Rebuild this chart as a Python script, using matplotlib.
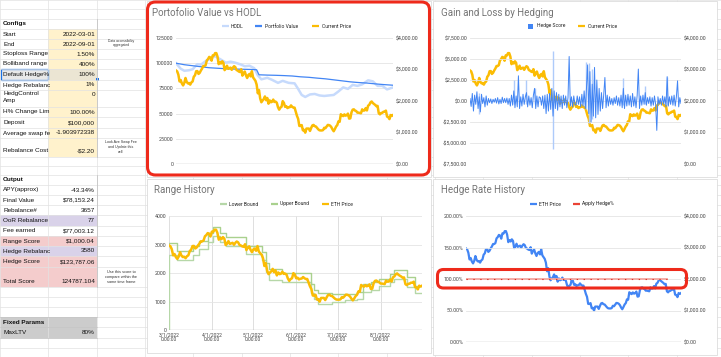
import matplotlib
matplotlib.use('Agg')
import matplotlib.pyplot as plt
from matplotlib.patches import Rectangle, FancyBboxPatch
from matplotlib.ticker import FuncFormatter
import pandas as pd

W, H = 721, 357
SHEET_FONT = 'Liberation Sans'

# ETH price, one value per day, 2022-03-01 .. 2022-08-31
eth_mar = [2970, 2940, 2835, 2620, 2665, 2555, 2495, 2575, 2730, 2610,
           2560, 2570, 2520, 2590, 2620, 2770, 2815, 2945, 2950, 2860,
           2895, 2970, 3030, 3110, 3110, 3140, 3290, 3330, 3400, 3380, 3280]
eth_apr = [3450, 3445, 3520, 3520, 3410, 3170, 3235, 3190, 3260, 3210,
           2980, 3030, 3120, 3020, 3040, 3060, 2990, 3060, 3105, 3075,
           2985, 2965, 2935, 2920, 3010, 2805, 2890, 2935, 2815, 2730]
eth_may = [2825, 2860, 2780, 2945, 2750, 2695, 2640, 2520, 2245, 2345,
           2080, 1960, 2015, 2060, 2145, 2025, 2095, 1915, 2020, 1960,
           1975, 2045, 1970, 1980, 1945, 1805, 1725, 1790, 1815, 1995, 1940]
eth_jun = [1815, 1835, 1775, 1800, 1805, 1860, 1815, 1790, 1790, 1665,
           1530, 1435, 1210, 1205, 1235, 1070, 1085, 995, 1125, 1125,
           1125, 1050, 1145, 1225, 1240, 1200, 1190, 1145, 1100, 1070]
eth_jul = [1065, 1065, 1075, 1150, 1135, 1185, 1240, 1235, 1215, 1170,
           1095, 1040, 1110, 1190, 1235, 1355, 1340, 1580, 1545, 1520,
           1575, 1535, 1550, 1600, 1440, 1450, 1640, 1725, 1735, 1695, 1680]
eth_aug = [1630, 1630, 1620, 1610, 1735, 1695, 1700, 1775, 1700, 1850,
           1880, 1955, 1985, 1935, 1905, 1875, 1835, 1845, 1610, 1575,
           1620, 1625, 1660, 1660, 1695, 1505, 1490, 1425, 1555, 1525, 1555]
eth_price = eth_mar + eth_apr + eth_may + eth_jun + eth_jul + eth_aug
days = list(range(len(eth_price)))
dates = pd.date_range('2022-03-01', periods=len(eth_price), freq='D')

# HODL and portfolio value (day index)
hodl_days = [0, 4, 7, 11, 14, 18, 21, 25, 29, 33, 35, 38, 42, 46, 50, 54, 58, 62,
             66, 69, 72, 77, 81, 86, 90, 95, 100, 103, 106, 109, 113, 117, 121,
             125, 129, 133, 137, 141, 145, 149, 153, 157, 162, 166, 170, 174, 178, 183]
hodl_value = [100000, 94500, 92500, 93000, 94000, 99000, 98500, 102000, 104500,
              107000, 105500, 103500, 100500, 101500, 100500, 99000, 97000, 97500,
              95000, 88000, 84000, 85500, 83500, 80500, 82500, 80500, 80000, 74500,
              68500, 66500, 69000, 69500, 68000, 67500, 68000, 68500, 72000, 76000,
              74500, 78500, 77500, 79000, 83000, 82000, 77500, 77500, 74000, 76000]
port_days = [0, 7, 14, 21, 28, 35, 42, 49, 56, 63, 68, 70, 77, 84, 91, 98, 105,
             112, 119, 126, 133, 140, 147, 154, 161, 168, 175, 183]
port_value = [100000, 98500, 97500, 96500, 95500, 95000, 94500, 94200, 94000,
              93800, 93500, 88500, 88200, 88000, 87700, 87300, 86500, 86000,
              85200, 84500, 83500, 82500, 81500, 80800, 80300, 79500, 78800, 78153]

# Hedge score per day
hedge_mar = [300, -650, 900, -1200, 700, -400, 1100, -900, 500, -1300, 800, -300,
             400, -700, 600, -500, 300, -200, 250, -300, 200, -150, 300, -250,
             400, -350, 200, -300, 450, -200, 300]
hedge_apr = [-200, 350, -400, 300, -600, 700, -500, 1200, -800, 600, -700, 3000,
             -900, 500, -600, 800, -400, 500, 1000, -700, 600, -500, 400, -800,
             700, 1500, -900, 600, -700, 500]
hedge_may = [400, -500, 600, -900, 700, -1500, 800, -1200, 900, -1000, 1500, -1800,
             1200, -900, 1000, -1100, 800, -700, 600, -900, 700, -500, 600, -800,
             400, 5300, -600, 500, -700, 600, -400]
hedge_jun = [-500, 600, -400, 500, -700, 800, -600, 1200, -900, 1500, 4300, -1500,
             3500, -2500, 2000, -1800, 4000, -2000, 2500, -1600, 1500, -1200, 1000,
             -900, 800, 2800, -800, 700, -600, 500]
hedge_jul = [-400, 300, -500, 400, -300, 600, -500, 400, -600, 700, -800, 1500,
             -900, 700, -600, 800, -500, 600, -700, 900, -600, 500, -800, 700,
             3800, -900, 600, -500, 700, -400, 1000]
hedge_aug = [-500, 400, -300, 500, -600, 400, -500, 600, -400, -3500, 500, -400,
             300, -500, 600, -400, 500, -700, 2900, -600, 500, -400, 600, -500,
             700, -600, 500, 2400, -700, 400, -300]
hedge_score = hedge_mar + hedge_apr + hedge_may + hedge_jun + hedge_jul + hedge_aug
light_days = [8, 38, 49, 56, 72, 101, 103, 106, 133, 152, 171]
light_low = [-1500, -300, -300, -300, -5700, -1000, -2600, -2200, -500, -300, -500]
light_high = [1000, 2500, 2500, 1500, 6000, 4700, 4500, 3800, 2700, 1800, 2900]

# Range history steps
bound_days = [0, 0, 6, 17, 22, 28, 32, 37, 41, 56, 67, 70, 72, 82, 103, 105, 108,
              118, 127, 136, 140, 146, 152, 160, 163, 172, 178, 183]
lower_bound = [0, 2620, 2450, 2620, 2850, 3100, 3300, 3100, 2950, 2650, 2450, 2050,
               1750, 1700, 1300, 1100, 900, 1000, 1050, 1100, 1350, 1400, 1550,
               1700, 1800, 1500, 1300, 1300]
upper_bound = [3070, 3070, 2760, 2950, 3120, 3400, 3600, 3400, 3250, 2950, 2750,
               2350, 2150, 1990, 1600, 1400, 1290, 1280, 1250, 1350, 1600, 1700,
               1800, 1950, 2100, 1850, 1550, 1550]

# Applied hedge rate
hedge_days = [0, 171]
apply_hedge = [1.0, 1.0]

# Spreadsheet text
config_labels = ['Start', 'End', 'Stoploss Range', 'Bolliband range', 'Default Hedge%',
                 'Hedge Rebalanc', 'HedgControl\nAmp', 'H% Change Lim', 'Deposit',
                 'Average swap fe', 'Rebalance Cost']
config_values = ['2022-03-01', '2022-09-01', '1.50%', '400%', '100%', '1%', '0',
                 '100.00%', '$100,000', '-1.903972338', '-$2.20']
output_labels = ['APY(approx)', 'Final Value', 'Rebalance#', 'OoR Rebalance',
                 'Fee earned', 'Range Score', 'Hedge Rebalanc', 'Hedge Score', 'Total Score']
output_values = ['-43.34%', '$78,153.24', '3657', '77', '$77,003.12', '$1,000.04',
                 '3580', '$123,787.06', '124787.104']

COL_EDGES = [0, 48, 97, 145, 193, 242, 290, 338, 387, 435, 483, 532, 580, 628, 677, 725]
ROW_EDGES = [0, 9, 19, 29, 39, 49, 59, 69, 80, 90, 107, 117, 128, 138, 157, 166, 175,
             185, 195, 205, 215, 226, 236, 246, 256, 267, 287, 297, 307, 317, 327,
             338, 348, 357]

YELLOW = '#fbbc04'
BLUE = '#4285f4'
GREY_TXT = '#444444'
TICK_SIZE = 3.8
PRICE_LW = 1.8


def box(x0, y0, x1, y1):
    return [x0 / W, 1 - y1 / H, (x1 - x0) / W, (y1 - y0) / H]


def money(v, pos=None):
    if v < 0:
        return f"-${-v:,.2f}"
    return f"${v:,.2f}"


def cell_text(ax, x, y, s, ha='left', va='center', bold=False, size=4.6):
    ax.text(x, y, s, ha=ha, va=va, fontsize=size, family=SHEET_FONT,
            fontweight='bold' if bold else 'normal', color='#111111', linespacing=1.3)


def draw_sheet(bg):
    for x in COL_EDGES:
        bg.plot([x, x], [0, H], color='#e2e2e2', lw=0.5)
    for y in ROW_EDGES:
        bg.plot([0, W], [y, y], color='#e2e2e2', lw=0.5)

    # config block
    cell_text(bg, 3, 24, 'Configs', bold=True)
    for i, (lab, val) in enumerate(zip(config_labels, config_values)):
        y0, y1 = ROW_EDGES[3 + i], ROW_EDGES[4 + i]
        fa, fb = None, '#fff2cc'
        if lab == 'Default Hedge%':
            fa, fb = '#e8e8e8', '#ebe5d3'
        if fa:
            bg.add_patch(Rectangle((0, y0), 48, y1 - y0, color=fa, lw=0))
        bg.add_patch(Rectangle((48, y0), 49, y1 - y0, color=fb, lw=0))
        if lab.startswith('HedgControl'):
            cell_text(bg, 3, y0 + 1.5, lab, va='top')
            cell_text(bg, 95, y0 + 1.5, val, ha='right', va='top')
        elif y1 - y0 > 14:
            cell_text(bg, 3, y1 - 6, lab)
            cell_text(bg, 95, y1 - 6, val, ha='right')
        else:
            cell_text(bg, 3, (y0 + y1) / 2, lab)
            cell_text(bg, 95, (y0 + y1) / 2, val, ha='right')
    bg.add_patch(Rectangle((0.5, 69), 47.5, 11, fill=False, ec='#1a73e8', lw=0.9))
    bg.add_patch(Rectangle((95.5, 78), 3, 3, color='#1a73e8', lw=0))
    bg.plot([97, 97], [19, 157], color='#bdbdbd', lw=0.5)

    # output block
    cell_text(bg, 3, 180, 'Output', bold=True)
    lav, pink = '#d9d2e9', '#f4cccc'
    fills = [None, None, None, lav, None, pink, lav, pink, pink]
    for i, (lab, val) in enumerate(zip(output_labels, output_values)):
        y0, y1 = ROW_EDGES[17 + i], ROW_EDGES[18 + i]
        if fills[i]:
            bg.add_patch(Rectangle((0, y0), 97, y1 - y0, color=fills[i], lw=0))
        yt = y1 - 5.5 if y1 - y0 > 14 else (y0 + y1) / 2
        cell_text(bg, 3, yt, lab)
        cell_text(bg, 95, yt, val, ha='right')
    bg.plot([97, 97], [175, 287], color='#bdbdbd', lw=0.5)

    # fixed params
    bg.add_patch(Rectangle((0, 317), 97, 21, color='#cccccc', lw=0))
    cell_text(bg, 3, 322, 'Fixed Params', bold=True)
    cell_text(bg, 3, 332.5, 'MaxLTV')
    cell_text(bg, 95, 332.5, '80%', ha='right')
    for y in [317, 327, 338]:
        bg.plot([0, 97], [y, y], color='#b8b8b8', lw=0.4)

    # notes in column C
    bg.text(121, 43, 'Data accessibility\naggregated', ha='center', va='center',
            fontsize=2.4, family=SHEET_FONT, color='#333333', linespacing=1.2)
    bg.text(121, 147, 'Look Ave Swap Fee\nand Update this\ncell', ha='center', va='center',
            fontsize=2.6, family=SHEET_FONT, color='#333333', linespacing=1.2)
    bg.text(121, 277, 'Use this score to\ncompare within the\nsame time frame', ha='center',
            va='center', fontsize=2.8, family=SHEET_FONT, color='#333333', linespacing=1.2)

    # chart panels
    for (x0, y0, x1, y1) in [(147, 1, 431, 177), (433, 1, 717, 177),
                             (147, 179, 431, 353), (433, 179, 717, 355)]:
        bg.add_patch(Rectangle((x0, y0), x1 - x0, y1 - y0, facecolor='white',
                               edgecolor='#d6d6d6', lw=0.5, zorder=3))


def style_axis(ax, grid_x=False):
    ax.set_facecolor('none')
    for s in ax.spines.values():
        s.set_visible(False)
    ax.tick_params(axis='both', length=0, labelsize=TICK_SIZE, colors=GREY_TXT, pad=2)
    ax.grid(axis='y', color='#e4e4e4', lw=0.6)
    if grid_x:
        ax.grid(axis='x', color='#d9d9d9', lw=0.6)
    ax.set_axisbelow(True)


def legend(ov, y, items):
    for kind, color, sx, tx, label in items:
        if kind == 'square':
            ov.add_patch(Rectangle((sx, y - 2.5), 5, 5, color=color, lw=0))
        else:
            ov.plot([sx, sx + 6.5], [y, y], color=color, lw=1.6, solid_capstyle='butt')
        ov.text(tx, y, label, ha='left', va='center', fontsize=3.6, color='#222222')


def chart_portfolio(fig):
    ax = fig.add_axes(box(176, 38, 393, 164))
    style_axis(ax)
    ax.plot(hodl_days, hodl_value, color='#c6dafc', lw=1.8)
    ax.plot(port_days, port_value, color=BLUE, lw=0.9)
    ax.axhline(0, color='#9e9e9e', lw=0.9)
    ax.set_ylim(0, 125000)
    ax.set_yticks(range(0, 125001, 25000))
    ax.set_xlim(0, days[-1])
    ax.set_xticks([])
    ax2 = ax.twinx()
    style_axis(ax2)
    ax2.grid(False)
    ax2.plot(days, eth_price, color=YELLOW, lw=PRICE_LW)
    ax2.set_ylim(0, 4000)
    ax2.set_yticks(range(0, 4001, 1000))
    ax2.yaxis.set_major_formatter(FuncFormatter(money))
    ax.set_zorder(2)
    ax2.set_zorder(3)


def chart_hedging(fig):
    ax = fig.add_axes(box(470, 38, 681, 164))
    style_axis(ax)
    ax.set_ylim(-7500, 7500)
    ax.set_yticks(range(-7500, 7501, 2500))
    ax.yaxis.set_major_formatter(FuncFormatter(money))
    ax.set_xlim(0, days[-1])
    ax.set_xticks([])
    ax2 = ax.twinx()
    style_axis(ax2)
    ax2.grid(False)
    ax2.plot(days, eth_price, color=YELLOW, lw=PRICE_LW)
    ax2.set_ylim(0, 4000)
    ax2.set_yticks(range(0, 4001, 1000))
    ax2.yaxis.set_major_formatter(FuncFormatter(money))
    ax.vlines(light_days, light_low, light_high, color='#aecbfa', lw=1.0)
    ax.plot(days, hedge_score, color=BLUE, lw=0.7)
    ax.set_zorder(3)
    ax2.set_zorder(2)


def chart_range(fig):
    ax = fig.add_axes(box(169, 216, 422, 330))
    style_axis(ax, grid_x=True)
    bdates = dates[bound_days]
    ax.step(bdates, lower_bound, where='post', color='#b6d7a8', lw=1.0)
    ax.step(bdates, upper_bound, where='post', color='#a9d18e', lw=1.0)
    ax.plot(dates, eth_price, color=YELLOW, lw=PRICE_LW)
    ax.axhline(0, color='#9e9e9e', lw=0.9)
    ax.set_ylim(0, 4000)
    ax.set_yticks(range(0, 4001, 1000))
    ax.set_xlim(dates[0], dates[-1])
    month_starts = pd.date_range('2022-03-01', '2022-08-01', freq='MS')
    ax.set_xticks(month_starts)
    ax.set_xticklabels([f"{d.month}/{d.day}/{d.year}\n0:00:00" for d in month_starts],
                       linespacing=1.1)
    ax.tick_params(axis='x', pad=1.5, labelsize=3.6)


def chart_hedge_rate(fig):
    ax = fig.add_axes(box(466, 216, 681, 342))
    style_axis(ax)
    ax.set_ylim(0, 2)
    ax.set_yticks([0, 0.5, 1.0, 1.5, 2.0])
    ax.yaxis.set_major_formatter(FuncFormatter(lambda v, p: f"{v * 100:.2f}%"))
    ax.axhline(0, color='#9e9e9e', lw=0.9)
    ax.set_xlim(0, days[-1])
    ax.set_xticks([])
    ax2 = ax.twinx()
    style_axis(ax2)
    ax2.grid(False)
    ax2.plot(days, eth_price, color=BLUE, lw=1.6)
    ax2.set_ylim(0, 4000)
    ax2.set_yticks(range(0, 4001, 1000))
    ax2.yaxis.set_major_formatter(FuncFormatter(money))
    ax.plot(hedge_days, apply_hedge, color='#f4a7a1', lw=1.3)
    ax.plot(hedge_days, apply_hedge, color='#d93025', lw=0.8, dashes=(1.2, 5))
    ax.set_zorder(3)
    ax2.set_zorder(2)


def main():
    plt.rcParams['font.family'] = ['Roboto', 'DejaVu Sans']
    fig = plt.figure(figsize=(W / 100, H / 100), dpi=100)

    bg = fig.add_axes([0, 0, 1, 1])
    bg.set_xlim(0, W)
    bg.set_ylim(H, 0)
    bg.axis('off')
    bg.set_zorder(0)
    draw_sheet(bg)

    chart_portfolio(fig)
    chart_hedging(fig)
    chart_range(fig)
    chart_hedge_rate(fig)

    ov = fig.add_axes([0, 0, 1, 1])
    ov.set_xlim(0, W)
    ov.set_ylim(H, 0)
    ov.axis('off')
    ov.set_zorder(10)

    title_kw = dict(fontsize=7, color='#757575', ha='left', va='center')
    ov.text(152, 13, 'Portofolio Value vs HODL', **title_kw)
    ov.text(441, 13, 'Gain and Loss by Hedging', **title_kw)
    ov.text(154, 190, 'Range History', **title_kw)
    ov.text(441, 190, 'Hedge Rate History', **title_kw)

    legend(ov, 26, [('line', '#c6dafc', 222, 231, 'HODL'),
                    ('line', BLUE, 255, 265, 'Portfolio Value'),
                    ('line', YELLOW, 312, 322, 'Current Price')])
    legend(ov, 26, [('square', BLUE, 528, 537, 'Hedge Score'),
                    ('line', YELLOW, 578, 588, 'Current Price')])
    legend(ov, 204, [('line', '#b6d7a8', 220, 229, 'Lower Bound'),
                     ('line', '#a9d18e', 271, 280, 'Upper Bound'),
                     ('line', YELLOW, 322, 331, 'ETH Price')])
    legend(ov, 204, [('line', BLUE, 530, 539, 'ETH Price'),
                     ('line', '#ea4335', 573, 582, 'Apply Hedge%')])

    # red highlight boxes
    ov.add_patch(FancyBboxPatch((147.5, 2), 282, 173, boxstyle='round,pad=0,rounding_size=8',
                                fill=False, ec='#ee2a1b', lw=2.2))
    ov.add_patch(FancyBboxPatch((437.5, 269.5), 249, 18.5, boxstyle='round,pad=0,rounding_size=6',
                                fill=False, ec='#ee2a1b', lw=2.2))

    fig.savefig('out.png', dpi=100)


if __name__ == "__main__":
    main()
